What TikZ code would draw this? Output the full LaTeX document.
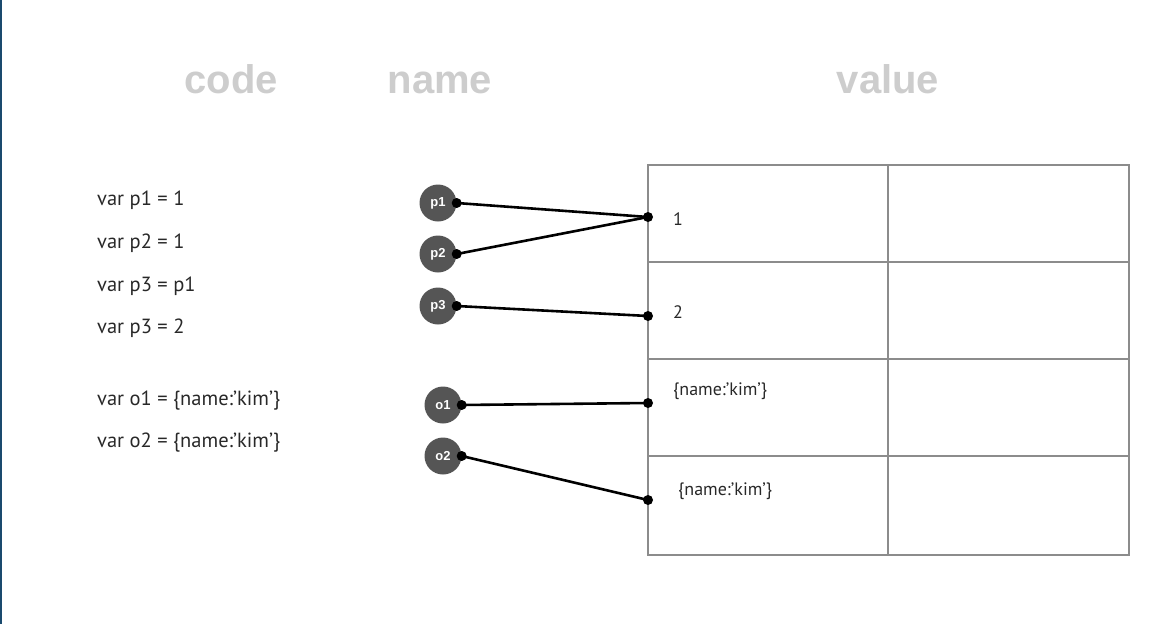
\documentclass[tikz,border=0pt]{standalone}
\usepackage{fontspec}
\setmainfont{PT Sans}
\newfontfamily\headfont{Liberation Sans}
\usetikzlibrary{positioning}
\definecolor{slate}{RGB}{85,85,85}
\definecolor{fog}{RGB}{205,205,205}
\definecolor{ink}{RGB}{40,40,40}
\definecolor{grid}{RGB}{140,140,140}
\definecolor{navy}{RGB}{26,74,110}
\tikzset{
  head/.style={anchor=base,font=\headfont\bfseries\fontsize{40}{44}\selectfont,text=fog},
  code/.style={anchor=base west,font=\fontsize{20.5}{24}\selectfont,text=ink,inner sep=0pt},
  var/.style={circle,fill=slate,minimum size=37pt,inner sep=0pt,
    font=\headfont\bfseries\fontsize{13}{15}\selectfont,text=white},
  dot/.style={circle,fill=black,inner sep=0pt,minimum size=10pt},
  link/.style={line width=2.6pt,draw=black},
  cell/.style={anchor=base west,font=\fontsize{18}{21}\selectfont,text=ink,inner sep=0pt},
}
\begin{document}
\begin{tikzpicture}[x=1pt,y=-1pt]
  \useasboundingbox (0,0) rectangle (1171,624);
  \fill[navy] (0,0) rectangle (2,624);
  % titles
  \node[head] (hcode) at (231,93) {code};
  \node[head] (hname) at (440,93) {name};
  \node[head] (hvalue) at (888,93) {value};
  % code lines
  \node[code] (c1) at (97,205) {var p1 = 1};
  \node[code] (c2) at (97,248) {var p2 = 1};
  \node[code] (c3) at (97,291) {var p3 = p1};
  \node[code] (c4) at (97,333) {var p3 = 2};
  \node[code] (c5) at (97,405) {var o1 = \{name:’kim’\}};
  \node[code] (c6) at (97,447) {var o2 = \{name:’kim’\}};
  % value table
  \draw[grid,line width=1.2pt] (648,165) rectangle (1129,555);
  \draw[grid,line width=1.2pt] (888,165) -- (888,555);
  \foreach \y in {262,359,456}
    \draw[grid,line width=1.2pt] (648,\y) -- (1129,\y);
  \node[cell] (val1) at (673,225) {1};
  \node[cell] (val2) at (673,318) {2};
  \node[cell] (val3) at (673,395) {\{name:’kim’\}};
  \node[cell] (val4) at (678,495) {\{name:’kim’\}};
  % names
  \node[var] (p1) at (438,203) {p1};
  \node[var] (p2) at (438,254) {p2};
  \node[var] (p3) at (438,306) {p3};
  \node[var] (o1) at (443,405) {o1};
  \node[var] (o2) at (443,456) {o2};
  \foreach \n in {p1,p2,p3,o1,o2}
    \node[dot] (\n d) at (\n.east) {};
  \node[dot] (r1) at (648,217) {};
  \node[dot] (r2) at (648,316) {};
  \node[dot] (r3) at (648,403) {};
  \node[dot] (r4) at (648,500) {};
  \draw[link] (p1d.center) -- (r1.center);
  \draw[link] (p2d.center) -- (r1.center);
  \draw[link] (p3d.center) -- (r2.center);
  \draw[link] (o1d.center) -- (r3.center);
  \draw[link] (o2d.center) -- (r4.center);
\end{tikzpicture}
\end{document}
